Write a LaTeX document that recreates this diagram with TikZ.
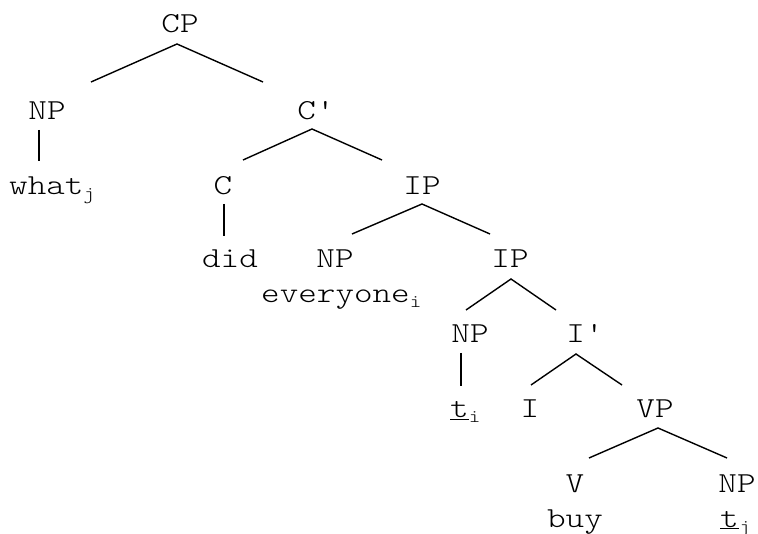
\documentclass[tikz,border=0pt]{standalone}
\newcommand{\tx}[1]{\scalebox{1.22}[1]{#1}}
\newcommand{\sbs}[1]{\raisebox{-5pt}{\fontsize{18}{18}\selectfont #1}}
\begin{document}
\begin{tikzpicture}[x=1pt,y=-1pt,
  lab/.style={anchor=base,inner sep=0pt,font=\fontsize{29}{34}\ttfamily\fontseries{l}\selectfont},
  labw/.style={lab,anchor=base west},
  br/.style={line width=1.4pt}]
\useasboundingbox (0,0) rectangle (758,534);
% nodes
\node[lab] (cp) at (180,33) {\tx{CP}};
\node[lab] (np1) at (47,120) {\tx{NP}};
\node[labw] (what) at (9,195) {\tx{what\sbs{j}}};
\node[lab] (cbar) at (316,120) {\tx{C\textquotesingle}};
\node[lab] (c) at (223,195) {\tx{C}};
\node[lab] (did) at (230,268) {\tx{did}};
\node[lab] (ip1) at (422,195) {\tx{IP}};
\node[lab] (np2) at (335,268) {\tx{NP}};
\node[labw] (every) at (261,303) {\tx{everyone\sbs{i}}};
\node[lab] (ip2) at (510,268) {\tx{IP}};
\node[lab] (np3) at (470,343) {\tx{NP}};
\node[lab] (ibar) at (585,343) {\tx{I\textquotesingle}};
\node[labw] (ti) at (450,418) {\tx{\underline{t}\sbs{i}}};
\node[lab] (i) at (530,418) {\tx{I}};
\node[lab] (vp) at (655,418) {\tx{VP}};
\node[lab] (v) at (575,493) {\tx{V}};
\node[lab] (np4) at (737,493) {\tx{NP}};
\node[lab] (buy) at (575,527) {\tx{buy}};
\node[labw] (tj) at (720,527) {\tx{\underline{t}\sbs{j}}};
% branch points
\coordinate (cp-a) at (177,44);
\coordinate (cp-l) at (91,82);
\coordinate (cp-r) at (263,82);
\coordinate (np1-a) at (39,130);
\coordinate (np1-b) at (39,161);
\coordinate (cb-a) at (312,129);
\coordinate (cb-l) at (243,160);
\coordinate (cb-r) at (382,160);
\coordinate (c-a) at (224,204);
\coordinate (c-b) at (224,236);
\coordinate (ip1-a) at (422,204);
\coordinate (ip1-l) at (352,234);
\coordinate (ip1-r) at (490,234);
\coordinate (ip2-a) at (511,279);
\coordinate (ip2-l) at (466,310);
\coordinate (ip2-r) at (556,310);
\coordinate (np3-a) at (461,353);
\coordinate (np3-b) at (461,386);
\coordinate (ib-a) at (576,354);
\coordinate (ib-l) at (531,385);
\coordinate (ib-r) at (622,385);
\coordinate (vp-a) at (658,428);
\coordinate (vp-l) at (589,458);
\coordinate (vp-r) at (727,458);
% branches
\draw[br] (cp-l) -- (cp-a) -- (cp-r);
\draw[br] (np1-a) -- (np1-b);
\draw[br] (cb-l) -- (cb-a) -- (cb-r);
\draw[br] (c-a) -- (c-b);
\draw[br] (ip1-l) -- (ip1-a) -- (ip1-r);
\draw[br] (ip2-l) -- (ip2-a) -- (ip2-r);
\draw[br] (np3-a) -- (np3-b);
\draw[br] (ib-l) -- (ib-a) -- (ib-r);
\draw[br] (vp-l) -- (vp-a) -- (vp-r);
\end{tikzpicture}
\end{document}
